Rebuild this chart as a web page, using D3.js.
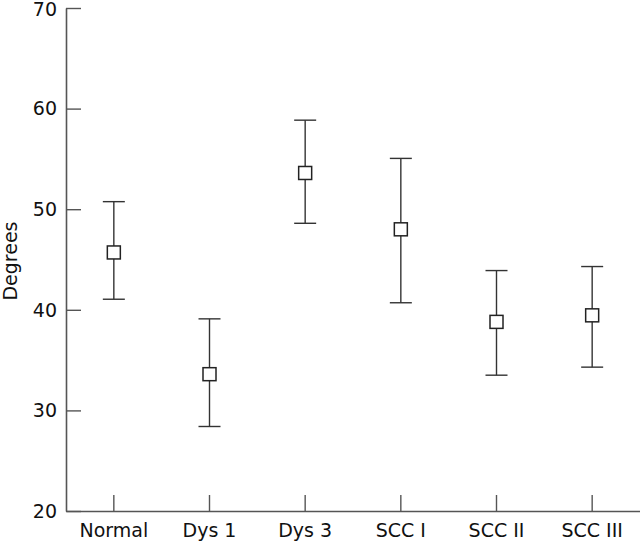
<!DOCTYPE html>
<html>
<head>
<meta charset="utf-8">
<script src="https://cdn.jsdelivr.net/npm/d3@7"></script>
<style>
  html, body { margin: 0; padding: 0; background: #fff; }
  svg { display: block; }
  text { font-family: "DejaVu Sans", "Lato", sans-serif; fill: #111; }
</style>
</head>
<body>
<svg id="chart" width="640" height="544"></svg>
<script>
const categories = ["Normal", "Dys 1", "Dys 3", "SCC I", "SCC II", "SCC III"];
const means = [45.7, 33.6, 53.6, 48.0, 38.8, 39.45];
const upper = [50.75, 39.1, 58.85, 55.05, 43.9, 44.3];
const lower = [41.05, 28.4, 48.6, 40.7, 33.5, 34.3];
const yTicks = [20, 30, 40, 50, 60, 70];
const yTitle = "Degrees";

(function () {
const svg = d3.select("#chart");
const mLeft = 66, mRight = 640, mTop = 8, mBottom = 511;

const x = d3.scaleBand().domain(categories).range([mLeft, mRight]).paddingInner(0).paddingOuter(0);
const y = d3.scaleLinear().domain([20, 70]).range([mBottom, mTop]);

const axisColor = "#555";
const markColor = "#333";

// Y axis (ticks pointing inward)
const yAxis = d3.axisRight(y).tickValues(yTicks).tickSize(15).tickFormat("").tickSizeOuter(0);
const gy = svg.append("g").attr("transform", `translate(${mLeft},0)`).call(yAxis);
gy.select(".domain").attr("stroke", axisColor).attr("stroke-width", 1.6);
gy.selectAll(".tick line").attr("stroke", axisColor).attr("stroke-width", 1.4);

// Y tick labels
svg.append("g").selectAll("text").data(yTicks).join("text")
  .attr("x", 57).attr("y", d => y(d))
  .attr("dy", d => d === 70 ? "0.42em" : "0.36em")
  .attr("text-anchor", "end")
  .attr("font-size", 19)
  .text(d => d);

// X axis (ticks pointing up)
const xAxis = d3.axisTop(x).tickSize(16).tickFormat("").tickSizeOuter(0);
const gx = svg.append("g").attr("transform", `translate(0,${mBottom})`).call(xAxis);
gx.select(".domain").attr("stroke", axisColor).attr("stroke-width", 1.6);
gx.selectAll(".tick line").attr("stroke", axisColor).attr("stroke-width", 1.4);

// X labels
svg.append("g").selectAll("text").data(categories).join("text")
  .attr("x", d => x(d) + x.bandwidth() / 2)
  .attr("y", 537)
  .attr("text-anchor", "middle")
  .attr("font-size", 19)
  .text(d => d);

// Y title
svg.append("text")
  .attr("transform", `translate(17,261) rotate(-90)`)
  .attr("text-anchor", "middle")
  .attr("font-size", 19)
  .text(yTitle);

// Error bars
const cx = d => x(d) + x.bandwidth() / 2;
const capW = 11;
const g = svg.append("g");
const rows = categories.map((c, i) => ({ c, m: means[i], u: upper[i], l: lower[i] }));

g.selectAll("line.stem").data(rows).join("line")
  .attr("class", "stem")
  .attr("x1", d => cx(d.c)).attr("x2", d => cx(d.c))
  .attr("y1", d => y(d.u)).attr("y2", d => y(d.l))
  .attr("stroke", markColor).attr("stroke-width", 1.4);

g.selectAll("line.capU").data(rows).join("line")
  .attr("class", "capU")
  .attr("x1", d => cx(d.c) - capW).attr("x2", d => cx(d.c) + capW)
  .attr("y1", d => y(d.u)).attr("y2", d => y(d.u))
  .attr("stroke", markColor).attr("stroke-width", 1.4);

g.selectAll("line.capL").data(rows).join("line")
  .attr("class", "capL")
  .attr("x1", d => cx(d.c) - capW).attr("x2", d => cx(d.c) + capW)
  .attr("y1", d => y(d.l)).attr("y2", d => y(d.l))
  .attr("stroke", markColor).attr("stroke-width", 1.4);

const sq = 13;
g.selectAll("rect").data(rows).join("rect")
  .attr("x", d => cx(d.c) - sq / 2).attr("y", d => y(d.m) - sq / 2)
  .attr("width", sq).attr("height", sq)
  .attr("fill", "#fff").attr("stroke", "#222").attr("stroke-width", 1.5);
})();
</script>
</body>
</html>
